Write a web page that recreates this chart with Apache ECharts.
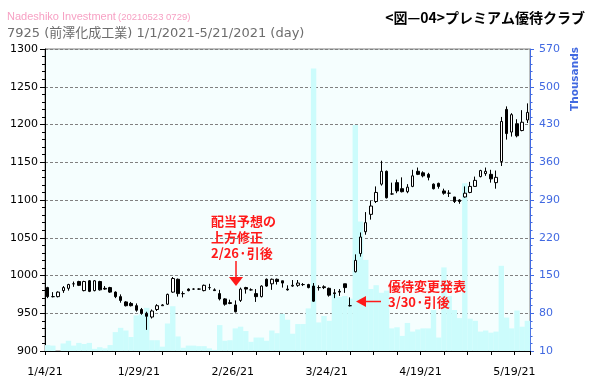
<!DOCTYPE html>
<html><head><meta charset="utf-8">
<script src="https://cdn.jsdelivr.net/npm/echarts@6/dist/echarts.min.js"></script>
<style>html,body{margin:0;padding:0;background:#fff}#c{width:590px;height:390px}</style>
</head><body><div id="c"></div>
<script>
const dates = ["1/4/21","1/5/21","1/6/21","1/7/21","1/8/21","1/12/21","1/13/21","1/14/21","1/15/21","1/18/21","1/19/21","1/20/21","1/21/21","1/22/21","1/25/21","1/26/21","1/27/21","1/28/21","1/29/21",
"2/1/21","2/2/21","2/3/21","2/4/21","2/5/21","2/8/21","2/9/21","2/10/21","2/12/21","2/15/21","2/16/21","2/17/21","2/18/21","2/19/21","2/22/21","2/24/21","2/25/21","2/26/21",
"3/1/21","3/2/21","3/3/21","3/4/21","3/5/21","3/8/21","3/9/21","3/10/21","3/11/21","3/12/21","3/15/21","3/16/21","3/17/21","3/18/21","3/19/21","3/22/21","3/23/21","3/24/21","3/25/21","3/26/21","3/29/21","3/30/21","3/31/21",
"4/1/21","4/2/21","4/5/21","4/6/21","4/7/21","4/8/21","4/9/21","4/12/21","4/13/21","4/14/21","4/15/21","4/16/21","4/19/21","4/20/21","4/21/21","4/22/21","4/23/21","4/26/21","4/27/21","4/28/21","4/30/21",
"5/6/21","5/7/21","5/10/21","5/11/21","5/12/21","5/13/21","5/14/21","5/17/21","5/18/21","5/19/21","5/20/21","5/21/21"];
const openP = [984,972,972,980,983,989,992,980,993,980,992,983,984,978,972,965,963,960,955,
950,945,955,960,962,978,995,976,982,982,982,980,984,981,976,969,964,961,
967,984,981,976,972,995,989,995,993,982,986,987,988,988,986,984,985,983,977,979,989,960,1005,
1029,1058,1081,1098,1121,1138,1108,1123,1115,1111,1118,1138,1136,1134,1121,1122,1112,1109,1104,1100,1104,
1110,1118,1131,1135,1134,1123,1151,1220,1190,1201,1192,1206];
const closeP = [972,972,978,984,988,989,987,992,979,993,981,982,978,972,967,960,960,954,950,
946,953,960,961,975,996,976,976,980,982,982,987,984,980,969,962,963,952,
982,982,981,972,986,986,995,992,990,981,987,990,988,984,966,984,984,974,976,978,984,960,1020,
1051,1070,1092,1110,1138,1103,1108,1112,1111,1117,1132,1134,1132,1130,1115,1118,1109,1109,1098,1098,1109,
1118,1126,1139,1138,1128,1130,1204,1188,1213,1185,1203,1216];
const lowP = [970,971,971,977,980,985,986,979,978,979,980,981,977,970,964,959,959,952,948,
928,943,953,960,961,977,972,971,979,981,981,979,981,980,967,960,962,951,
965,976,980,965,971,985,981,988,984,980,985,985,986,983,965,980,982,972,970,973,977,959,1004,
1025,1054,1074,1096,1119,1102,1107,1109,1110,1109,1117,1133,1130,1126,1114,1115,1107,1104,1096,1095,1103,
1109,1118,1130,1132,1123,1115,1145,1180,1184,1183,1191,1202];
const highP = [985,978,979,986,989,992,993,993,994,994,993,986,985,979,975,966,965,963,957,
952,955,962,962,976,998,996,979,983,983,983,988,989,983,981,970,968,967,
984,985,983,982,987,996,996,996,993,987,994,994,990,989,990,987,987,984,982,982,989,971,1028,
1057,1084,1099,1118,1152,1139,1123,1127,1130,1121,1140,1143,1138,1136,1122,1123,1115,1113,1104,1101,1118,
1124,1131,1140,1143,1140,1139,1210,1224,1215,1207,1219,1228];
const volumeK = [21,20,10,24,29,20,25,23,25,14,17,15,21,45,53,48,36,76,78,
90,30,30,18,61,93,37,16,20,20,19,19,15,12,58,29,30,52,
55,47,27,35,35,29,48,43,79,68,42,60,60,89,534,63,75,66,115,110,112,107,429,
250,179,125,132,118,122,52,54,38,62,46,50,52,52,86,35,165,112,86,71,321,
70,66,46,48,44,46,168,72,52,85,55,66];
const priceAxis = {min: 900, max: 1300, interval: 50};
const volAxis = {min: 10, max: 570};
const labelEvery = 18;
const tickStep = 4.5;

const RED = '#FF1A1A';
const chart = echarts.init(document.getElementById('c'), null, {renderer: 'canvas'});
const candleData = dates.map((d, i) => [i + 0.5, openP[i], closeP[i], lowP[i], highP[i]]);
const volData = dates.map((d, i) => [i + 0.5, volumeK[i]]);
const txt = (x, y, text, font, fill, align) => ({type: 'text', x: x, y: y, z: 100, silent: true,
  style: {text: text, font: font, fill: fill, align: align || 'left', verticalAlign: 'middle'}});

chart.setOption({
  animation: false,
  backgroundColor: '#FFFFFF',
  grid: {left: 45, right: 60, top: 49, bottom: 39, show: true, backgroundColor: '#F5FEFE', borderColor: '#808080', borderWidth: 1},
  xAxis: {
    type: 'value', min: 0, max: dates.length, interval: tickStep,
    axisLine: {onZero: false, lineStyle: {color: '#000', width: 1}},
    axisTick: {length: 4, lineStyle: {color: '#000'}},
    splitLine: {show: false},
    axisLabel: {color: '#000', fontSize: 11, fontFamily: 'DejaVu Sans', margin: 16,
      formatter: v => (Math.abs(v % labelEvery) < 1e-6 && v < dates.length) ? dates[Math.round(v)] : ''}
  },
  yAxis: [{
    type: 'value', position: 'left', min: priceAxis.min, max: priceAxis.max, interval: priceAxis.interval,
    axisLine: {show: true, onZero: false, lineStyle: {color: '#000', width: 1}},
    axisTick: {show: true, length: 5, lineStyle: {color: '#000'}},
    minorTick: {show: true, splitNumber: 5, length: 3, lineStyle: {color: '#000'}},
    splitLine: {show: true, lineStyle: {color: '#808080', type: [3, 2], width: 1}},
    axisLabel: {color: '#000', fontSize: 11, fontFamily: 'DejaVu Sans', margin: 7, formatter: v => String(v)}
  }, {
    type: 'value', position: 'right', min: volAxis.min, max: volAxis.max, alignTicks: true,
    axisLine: {show: true, onZero: false, lineStyle: {color: '#4169E1', width: 1}},
    axisTick: {show: true, length: 4, lineStyle: {color: '#4169E1'}},
    minorTick: {show: true, splitNumber: 5, length: 2.5, lineStyle: {color: '#4169E1'}},
    splitLine: {show: false},
    axisLabel: {color: '#4169E1', fontSize: 11, fontFamily: 'DejaVu Sans', margin: 9, formatter: v => String(v)}
  }],
  series: [{
    type: 'bar', yAxisIndex: 1, data: volData, barWidth: 5.4, silent: true, z: 1,
    itemStyle: {color: '#CCFCFC'}
  }, {
    type: 'candlestick', yAxisIndex: 0, data: candleData, barWidth: 3, silent: true, z: 3,
    itemStyle: {color: '#FFFFFF', color0: '#000000', borderColor: '#000000', borderColor0: '#000000', borderColorDoji: '#000000', borderWidth: 1}
  }],
  graphic: [
    txt(7, 17, 'Nadeshiko Investment', '11px "Liberation Sans"', '#F7A1C4'),
    txt(118, 17, '(20210523 0729)', '9.5px "Liberation Sans"', '#F7A1C4'),
    txt(7, 34, '7925 (前澤化成工業) 1/1/2021-5/21/2021 (day)', '13px "DejaVu Sans", "Noto Sans CJK JP"', '#6D6D6D'),
    txt(585, 18, '<図—04>プレミアム優待クラブ', 'bold 14px "Noto Sans CJK JP"', '#000000', 'right'),
    {type: 'text', x: 575, y: 79, rotation: Math.PI / 2, z: 100, silent: true,
      style: {text: 'Thousands', font: 'bold 10.5px "DejaVu Sans"', fill: '#4169E1', align: 'center', verticalAlign: 'middle'}},
    txt(211, 221, '配当予想の', 'bold 13px "Noto Sans CJK JP"', RED),
    txt(211, 237, '上方修正', 'bold 13px "Noto Sans CJK JP"', RED),
    txt(211, 253, '2/26·引後', 'bold 13px "Noto Sans CJK JP"', RED),
    {type: 'line', z: 100, silent: true, shape: {x1: 236, y1: 261, x2: 236, y2: 278}, style: {stroke: RED, lineWidth: 1.5}},
    {type: 'polygon', z: 100, silent: true, shape: {points: [[229, 277], [243, 277], [236, 286]]}, style: {fill: RED}},
    txt(388, 286, '優待変更発表', 'bold 13px "Noto Sans CJK JP"', RED),
    txt(388, 302, '3/30·引後', 'bold 13px "Noto Sans CJK JP"', RED),
    {type: 'line', z: 100, silent: true, shape: {x1: 365, y1: 301.5, x2: 381, y2: 301.5}, style: {stroke: RED, lineWidth: 1.5}},
    {type: 'polygon', z: 100, silent: true, shape: {points: [[356, 301.5], [366, 296], [366, 307]]}, style: {fill: RED}}
  ]
});
</script></body></html>
